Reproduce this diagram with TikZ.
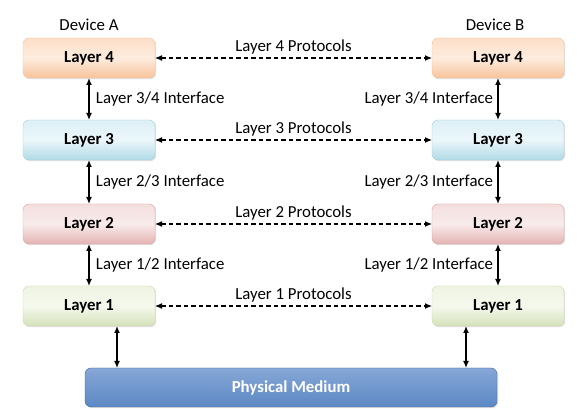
\documentclass[tikz,border=0pt]{standalone}
\usepackage{fontspec}
\setmainfont{Carlito}
\usetikzlibrary{arrows.meta,shadows}

\definecolor{orangeTop}{HTML}{FCDFC8}
\definecolor{orangeBot}{HTML}{F8C39A}
\definecolor{orangeLine}{HTML}{F6BE92}
\definecolor{blueTop}{HTML}{DDF0F6}
\definecolor{blueBot}{HTML}{B0DAE6}
\definecolor{blueLine}{HTML}{9ACFDE}
\definecolor{redTop}{HTML}{F4DEDE}
\definecolor{redBot}{HTML}{E4B3B2}
\definecolor{redLine}{HTML}{DA9C9A}
\definecolor{greenTop}{HTML}{EEF4E2}
\definecolor{greenBot}{HTML}{D5E2B9}
\definecolor{greenLine}{HTML}{C7D9A3}
\definecolor{medTop}{HTML}{86A7D6}
\definecolor{medMid}{HTML}{4677B8}
\definecolor{medBot}{HTML}{5C88C4}
\definecolor{medLine}{HTML}{3A6399}

\begin{document}
\begin{tikzpicture}[x=1pt,y=-1pt,line width=.35pt,font=\fontsize{16.8}{20}\selectfont,
  layer/.style={rounded corners=6pt,minimum width=132pt,minimum height=40pt,outer sep=0pt,
    font=\fontsize{16.8}{20}\selectfont\bfseries,
    drop shadow={opacity=.25,shadow xshift=1.2pt,shadow yshift=-1.2pt}},
  lfour/.style={layer,draw=orangeLine,top color=orangeTop,bottom color=orangeBot,middle color=orangeTop!60!white},
  lthree/.style={layer,draw=blueLine,top color=blueTop,bottom color=blueBot,middle color=blueTop!60!white},
  ltwo/.style={layer,draw=redLine,top color=redTop,bottom color=redBot,middle color=redTop!60!white},
  lone/.style={layer,draw=greenLine,top color=greenTop,bottom color=greenBot,middle color=greenTop!60!white},
  iface/.style={line width=1.3pt,{Latex[length=7pt,width=6pt]}-{Latex[length=7pt,width=6pt]}},
  proto/.style={line width=1.1pt,dash pattern=on 4.5pt off 3pt,{Latex[length=7pt,width=6pt]}-{Latex[length=7pt,width=6pt]}}]
\useasboundingbox (0,0) rectangle (587,411);
\node (devA) at (89,25) {Device A};
\node (devB) at (495,25) {Device B};
\node[lfour] (a4) at (89,58) {Layer 4};
\node[lfour] (b4) at (498,58) {Layer 4};
\node[lthree] (a3) at (89,140) {Layer 3};
\node[lthree] (b3) at (498,140) {Layer 3};
\node[ltwo] (a2) at (89,224) {Layer 2};
\node[ltwo] (b2) at (498,224) {Layer 2};
\node[lone] (a1) at (89,306) {Layer 1};
\node[lone] (b1) at (498,306) {Layer 1};
\node[layer,draw=medLine,top color=medTop,middle color=medMid,bottom color=medBot,text=white,
  minimum width=412pt,minimum height=39pt] (med) at (291,387.5) {Physical Medium};
\draw[proto] (a4) -- (b4) node[midway,above=0pt] {Layer 4 Protocols};
\draw[proto] (a3) -- (b3) node[midway,above=0pt] {Layer 3 Protocols};
\draw[proto] (a2) -- (b2) node[midway,above=0pt] {Layer 2 Protocols};
\draw[proto] (a1) -- (b1) node[midway,above=0pt] {Layer 1 Protocols};
\draw[iface] (a4) -- (a3) node[midway,right=3pt] {Layer 3/4 Interface};
\draw[iface] (a3) -- (a2) node[midway,right=3pt] {Layer 2/3 Interface};
\draw[iface] (a2) -- (a1) node[midway,right=3pt] {Layer 1/2 Interface};
\draw[iface] (b4) -- (b3) node[midway,left=1pt] {Layer 3/4 Interface};
\draw[iface] (b3) -- (b2) node[midway,left=1pt] {Layer 2/3 Interface};
\draw[iface] (b2) -- (b1) node[midway,left=1pt] {Layer 1/2 Interface};
\draw[iface] ([xshift=28pt]a1.south) -- ([xshift=28pt]a1.south |- med.north);
\draw[iface] ([xshift=-32pt]b1.south) -- ([xshift=-32pt]b1.south |- med.north);
\end{tikzpicture}
\end{document}
